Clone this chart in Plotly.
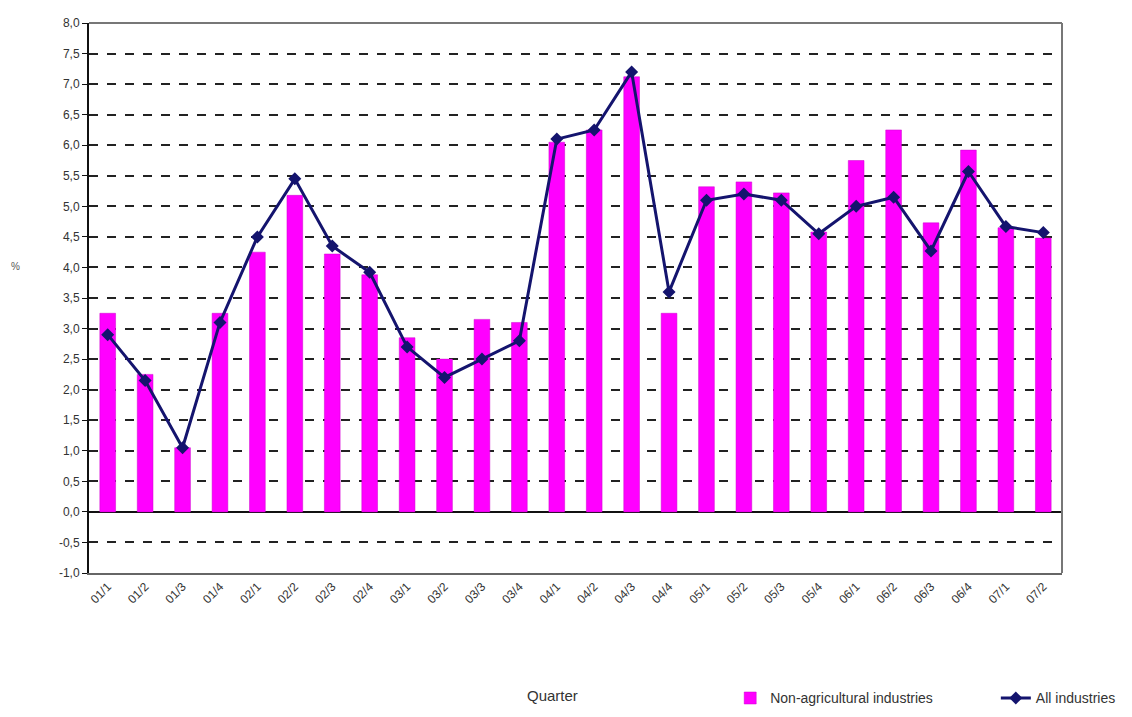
import plotly.graph_objects as go

quarters = ["01/1", "01/2", "01/3", "01/4", "02/1", "02/2", "02/3", "02/4",
            "03/1", "03/2", "03/3", "03/4", "04/1", "04/2", "04/3", "04/4",
            "05/1", "05/2", "05/3", "05/4", "06/1", "06/2", "06/3", "06/4",
            "07/1", "07/2"]
non_agri = [3.25, 2.25, 1.05, 3.25, 4.25, 5.18, 4.22, 3.88,
            2.85, 2.5, 3.15, 3.1, 6.05, 6.25, 7.12, 3.25,
            5.32, 5.4, 5.22, 4.58, 5.75, 6.25, 4.73, 5.92,
            4.65, 4.48]
all_ind = [2.9, 2.15, 1.05, 3.1, 4.5, 5.45, 4.35, 3.92,
           2.7, 2.2, 2.5, 2.8, 6.1, 6.25, 7.2, 3.6,
           5.1, 5.2, 5.1, 4.55, 5.0, 5.15, 4.27, 5.57,
           4.67, 4.57]
yticks = [-1.0, -0.5, 0.0, 0.5, 1.0, 1.5, 2.0, 2.5, 3.0, 3.5, 4.0, 4.5,
          5.0, 5.5, 6.0, 6.5, 7.0, 7.5, 8.0]
ytick_text = [f"{v:.1f}".replace(".", ",") for v in yticks]

font_family = "Liberation Sans Narrow, Arial Narrow, Liberation Sans, sans-serif"

fig = go.Figure()
fig.add_trace(go.Bar(
    x=quarters, y=non_agri, name="Non-agricultural industries",
    marker=dict(color="#FF00FF", line=dict(color="#CC00CC", width=0.5)),
    width=0.42, legend="legend",
))
fig.add_trace(go.Scatter(
    x=quarters, y=all_ind, name="All industries", mode="lines+markers",
    line=dict(color="#14146E", width=3),
    marker=dict(symbol="diamond", size=10, color="#14146E"),
    legend="legend2",
))

legend_common = dict(orientation="h", yanchor="middle", xanchor="left",
                     font=dict(size=14, color="#333333", family=font_family),
                     bgcolor="rgba(0,0,0,0)", itemwidth=30)

fig.update_layout(
    width=1132, height=717,
    margin=dict(l=81, r=78, t=8, b=152),
    plot_bgcolor="white", paper_bgcolor="white",
    font=dict(family=font_family, size=12, color="#333333"),
    showlegend=True,
    legend=dict(x=0.659, y=-0.228, **legend_common),
    legend2=dict(x=0.932, y=-0.228, **legend_common),
)
fig.update_xaxes(
    type="category", tickangle=-45, showgrid=False, range=[-0.5, len(quarters) - 0.5],
    showline=True, linecolor="#666666", linewidth=2,
    tickfont=dict(size=12, color="#333333"),
    ticks="",
)
fig.update_yaxes(
    range=[-1.0, 8.0], tickvals=yticks, ticktext=ytick_text,
    showgrid=True, gridcolor="#222222", gridwidth=1.5, griddash="dash",
    zeroline=True, zerolinecolor="#111111", zerolinewidth=2,
    showline=True, linecolor="#111111", linewidth=2,
    ticks="outside", ticklen=5, tickcolor="#111111",
    tickfont=dict(size=12, color="#333333"),
)
# right/top border in gray
fig.add_shape(type="line", xref="paper", yref="paper", x0=1, x1=1, y0=0, y1=1,
              line=dict(color="#777777", width=2))
fig.add_shape(type="line", xref="paper", yref="paper", x0=0, x1=1, y0=1, y1=1,
              line=dict(color="#777777", width=2))

fig.add_annotation(text="Quarter", xref="paper", yref="paper", x=0.476, y=-0.223,
                   showarrow=False, xanchor="center", yanchor="middle",
                   font=dict(size=15, color="#333333", family=font_family))
fig.add_annotation(text="%", xref="paper", yref="paper", x=-0.076, y=0.558,
                   showarrow=False, xanchor="center", yanchor="middle",
                   font=dict(size=10, color="#555555", family=font_family))

fig.write_html("out.html")
